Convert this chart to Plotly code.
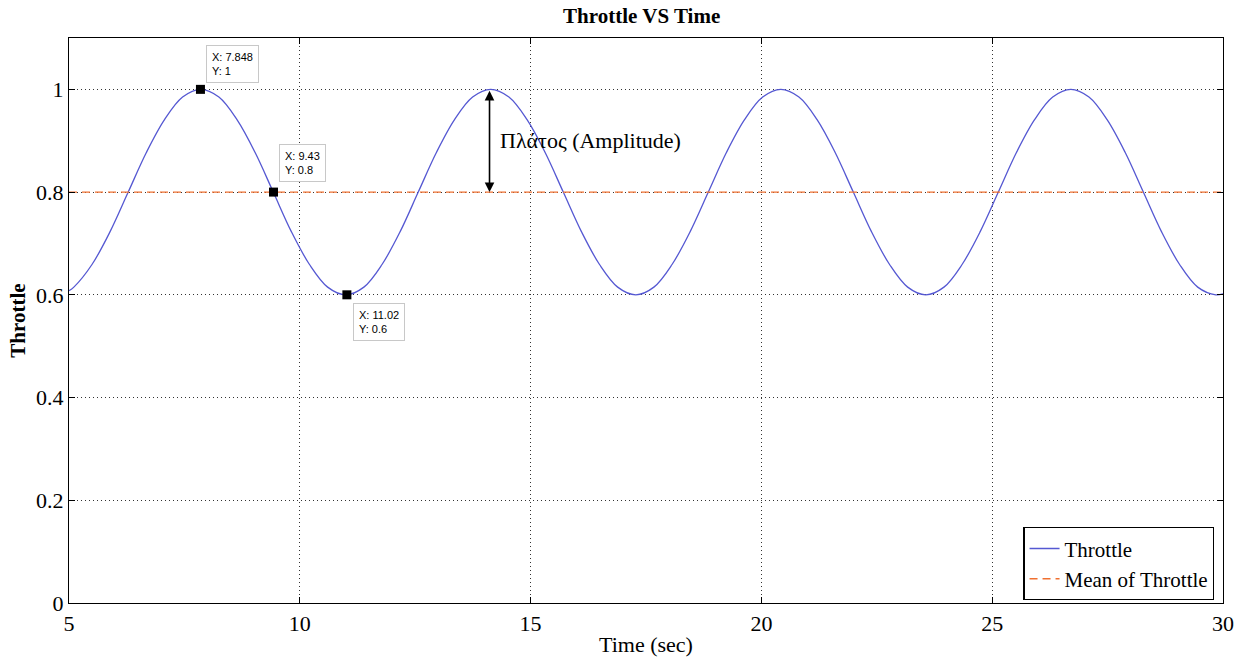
import plotly.graph_objects as go

# Throttle samples (time in seconds, throttle value)
time_s = [5.0,
          5.105, 5.498, 5.890, 6.283, 6.676, 7.069, 7.461, 7.854,
          8.247, 8.639, 9.032, 9.425, 9.817, 10.210, 10.603, 10.996,
          11.388, 11.781, 12.174, 12.566, 12.959, 13.352, 13.744, 14.137,
          14.530, 14.923, 15.315, 15.708, 16.101, 16.493, 16.886, 17.279,
          17.671, 18.064, 18.457, 18.850, 19.242, 19.635, 20.028, 20.420,
          20.813, 21.206, 21.598, 21.991, 22.384, 22.777, 23.169, 23.562,
          23.955, 24.347, 24.740, 25.133, 25.525, 25.918, 26.311, 26.704,
          27.096, 27.489, 27.882, 28.274, 28.667, 29.060, 29.452, 29.845,
          30.0]
throttle = [0.608,
            0.615, 0.659, 0.723, 0.8, 0.877, 0.941, 0.985, 1.0,
            0.985, 0.941, 0.877, 0.8, 0.723, 0.659, 0.615, 0.6,
            0.615, 0.659, 0.723, 0.8, 0.877, 0.941, 0.985, 1.0,
            0.985, 0.941, 0.877, 0.8, 0.723, 0.659, 0.615, 0.6,
            0.615, 0.659, 0.723, 0.8, 0.877, 0.941, 0.985, 1.0,
            0.985, 0.941, 0.877, 0.8, 0.723, 0.659, 0.615, 0.6,
            0.615, 0.659, 0.723, 0.8, 0.877, 0.941, 0.985, 1.0,
            0.985, 0.941, 0.877, 0.8, 0.723, 0.659, 0.615, 0.6,
            0.602]
mean_throttle = 0.8

# Data-tip points
tip_x = [7.848, 9.43, 11.02]
tip_y = [1.0, 0.8, 0.6]
tip_labels = ["X: 7.848<br>Y: 1", "X: 9.43<br>Y: 0.8", "X: 11.02<br>Y: 0.6"]

x_ticks = [5, 10, 15, 20, 25, 30]
y_ticks = [0, 0.2, 0.4, 0.6, 0.8, 1]
y_tick_text = ["0", "0.2", "0.4", "0.6", "0.8", "1"]

serif = "Liberation Serif, Times New Roman, serif"

fig = go.Figure()
fig.add_trace(go.Scatter(
    x=time_s, y=throttle, mode="lines", name="Throttle",
    line=dict(color="#5558d2", width=1.3, shape="spline", smoothing=1.0),
))
fig.add_trace(go.Scatter(
    x=[x_ticks[0], x_ticks[-1]], y=[mean_throttle, mean_throttle], mode="lines",
    name="Mean of Throttle",
    line=dict(color="#f07030", width=1.4, dash="8px,5px"),
))
fig.add_trace(go.Scatter(
    x=tip_x, y=tip_y, mode="markers", showlegend=False,
    marker=dict(symbol="square", size=9, color="black"),
))

# Data-tip boxes
tip_pos = [dict(xshift=6, yshift=6, yanchor="bottom"),
           dict(xshift=6, yshift=10, yanchor="bottom"),
           dict(xshift=6, yshift=-8, yanchor="top")]
for x, y, t, p in zip(tip_x, tip_y, tip_labels, tip_pos):
    fig.add_annotation(
        x=x, y=y, text=t, showarrow=False, xanchor="left", align="left",
        font=dict(family="Liberation Sans, Arial, sans-serif", size=11, color="black"),
        bgcolor="white", bordercolor="#c8c8c8", borderwidth=1, borderpad=5, **p,
    )

# Amplitude double arrow between mean and peak
fig.add_annotation(
    x=14.11, y=mean_throttle, ax=14.11, ay=1.0, xref="x", yref="y", axref="x", ayref="y",
    text="", showarrow=True, arrowhead=2, arrowside="end+start", arrowsize=1.2,
    arrowwidth=1.6, arrowcolor="black",
)
fig.add_annotation(
    x=14.3, y=0.9, text="Πλάτος (Amplitude)", showarrow=False, xanchor="left",
    font=dict(family=serif, size=22, color="black"),
)

axis_common = dict(
    showline=True, linecolor="black", linewidth=1.2, mirror="allticks",
    ticks="inside", ticklen=6, tickcolor="black",
    showgrid=True, gridcolor="#333333", griddash="1px,3px", gridwidth=1.2,
    zeroline=False, tickfont=dict(family=serif, size=22, color="black"),
)

fig.update_layout(
    width=1246, height=665,
    margin=dict(l=69, r=22, t=38, b=60),
    paper_bgcolor="white", plot_bgcolor="white",
    title=dict(text="<b>Throttle VS Time</b>", x=0.515, xanchor="center", y=0.977, yanchor="middle",
               font=dict(family=serif, size=21, color="black")),
    xaxis=dict(range=[5, 30], tickvals=x_ticks, title=dict(text="Time (sec)", standoff=2,
               font=dict(family=serif, size=22, color="black")), **axis_common),
    yaxis=dict(range=[0, 1.1], tickvals=y_ticks, ticktext=y_tick_text,
               title=dict(text="<b>Throttle</b>", standoff=4,
               font=dict(family=serif, size=21, color="black")), **axis_common),
    legend=dict(x=0.9925, y=0.005, xanchor="right", yanchor="bottom",
                bgcolor="white", bordercolor="black", borderwidth=1.2,
                font=dict(family=serif, size=21, color="black"),
                tracegroupgap=0, itemwidth=30),
    showlegend=True,
)

fig.write_html("out.html")
